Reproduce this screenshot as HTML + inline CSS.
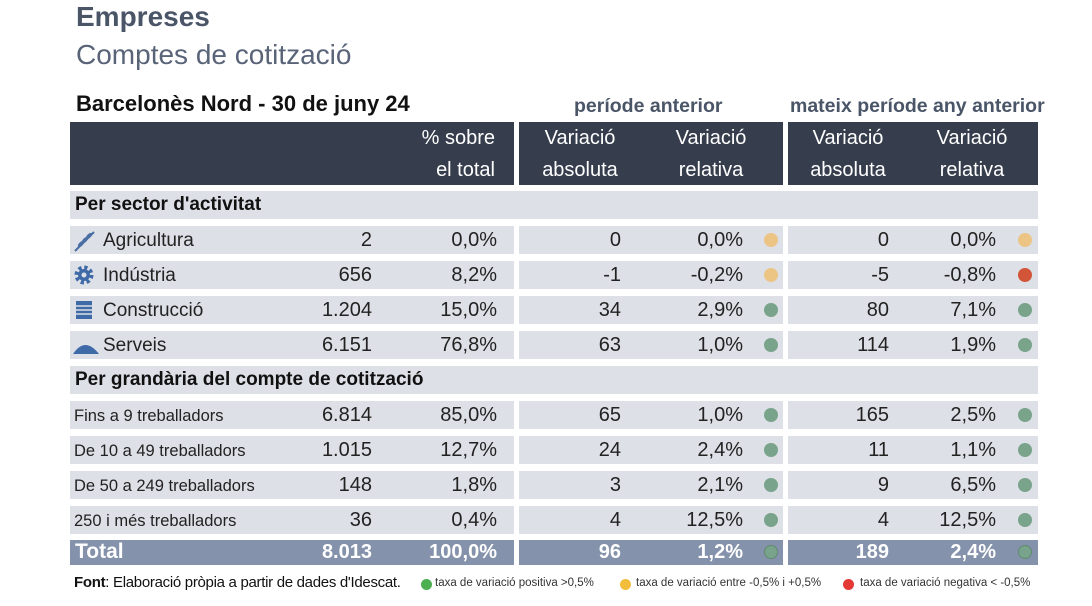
<!DOCTYPE html>
<html><head><meta charset="utf-8"><style>
*{margin:0;padding:0;box-sizing:border-box}
body{width:1092px;height:606px;background:#fff;font-family:"Liberation Sans",sans-serif;position:relative;overflow:hidden;color:#222}
.a{position:absolute;white-space:nowrap}
.bg{position:absolute;background:#dde0e6}
.hd{position:absolute;background:#363e4d}
.tt{position:absolute;background:#8592ab}
.n{position:absolute;font-size:20px;text-align:right;white-space:nowrap;line-height:28px}
.h{position:absolute;font-size:20px;color:#fff;text-align:center;white-space:nowrap;line-height:32px}
.d{position:absolute;width:14px;height:14px;border-radius:50%}
.g{background:#7aa38b}.y{background:#ecc585}.rd{background:#d2553a}
.lab{position:absolute;line-height:28px;white-space:nowrap}
</style></head><body>
<div class="a" style="left:76px;top:1px;font-size:28px;font-weight:bold;color:#4a5568">Empreses</div>
<div class="a" style="left:76px;top:39px;font-size:28px;color:#5a6478">Comptes de cotització</div>
<div class="a" style="left:76px;top:91px;font-size:22px;font-weight:bold;color:#111">Barcelonès Nord - 30 de juny 24</div>
<div class="a" style="left:574px;top:95px;font-size:19.5px;font-weight:bold;color:#4a5568">període anterior</div>
<div class="a" style="left:790px;top:95px;font-size:19.5px;font-weight:bold;color:#4a5568">mateix període any anterior</div>

<div class="hd" style="left:70px;top:122px;width:444px;height:63px"></div>
<div class="hd" style="left:519px;top:122px;width:264px;height:63px"></div>
<div class="hd" style="left:788px;top:122px;width:250px;height:63px"></div>
<div class="h" style="left:380px;width:115px;top:122px;text-align:right">% sobre</div>
<div class="h" style="left:380px;width:115px;top:154px;text-align:right">el total</div>
<div class="h" style="left:520px;width:120px;top:122px">Variació</div>
<div class="h" style="left:520px;width:120px;top:154px">absoluta</div>
<div class="h" style="left:651px;width:120px;top:122px">Variació</div>
<div class="h" style="left:651px;width:120px;top:154px">relativa</div>
<div class="h" style="left:788px;width:120px;top:122px">Variació</div>
<div class="h" style="left:788px;width:120px;top:154px">absoluta</div>
<div class="h" style="left:912px;width:120px;top:122px">Variació</div>
<div class="h" style="left:912px;width:120px;top:154px">relativa</div>

<div class="bg" style="left:70px;top:191px;width:968px;height:28px"></div>
<div class="lab" style="left:75px;top:191px;font-size:19px;font-weight:bold;color:#111">Per sector d'activitat</div>
<div class="bg" style="left:70px;top:366px;width:968px;height:28px"></div>
<div class="lab" style="left:75px;top:366px;font-size:19px;font-weight:bold;color:#111">Per grandària del compte de cotització</div>

<div class="bg" style="left:70px;top:226px;width:444px;height:28px"></div><div class="bg" style="left:519px;top:226px;width:264px;height:28px"></div><div class="bg" style="left:788px;top:226px;width:250px;height:28px"></div>
<div class="bg" style="left:70px;top:261px;width:444px;height:28px"></div><div class="bg" style="left:519px;top:261px;width:264px;height:28px"></div><div class="bg" style="left:788px;top:261px;width:250px;height:28px"></div>
<div class="bg" style="left:70px;top:296px;width:444px;height:28px"></div><div class="bg" style="left:519px;top:296px;width:264px;height:28px"></div><div class="bg" style="left:788px;top:296px;width:250px;height:28px"></div>
<div class="bg" style="left:70px;top:331px;width:444px;height:28px"></div><div class="bg" style="left:519px;top:331px;width:264px;height:28px"></div><div class="bg" style="left:788px;top:331px;width:250px;height:28px"></div>
<div class="bg" style="left:70px;top:401px;width:444px;height:28px"></div><div class="bg" style="left:519px;top:401px;width:264px;height:28px"></div><div class="bg" style="left:788px;top:401px;width:250px;height:28px"></div>
<div class="bg" style="left:70px;top:436px;width:444px;height:28px"></div><div class="bg" style="left:519px;top:436px;width:264px;height:28px"></div><div class="bg" style="left:788px;top:436px;width:250px;height:28px"></div>
<div class="bg" style="left:70px;top:471px;width:444px;height:28px"></div><div class="bg" style="left:519px;top:471px;width:264px;height:28px"></div><div class="bg" style="left:788px;top:471px;width:250px;height:28px"></div>
<div class="bg" style="left:70px;top:506px;width:444px;height:28px"></div><div class="bg" style="left:519px;top:506px;width:264px;height:28px"></div><div class="bg" style="left:788px;top:506px;width:250px;height:28px"></div>
<div class="tt" style="left:70px;top:540px;width:444px;height:25px"></div><div class="tt" style="left:519px;top:540px;width:264px;height:25px"></div><div class="tt" style="left:788px;top:540px;width:250px;height:25px"></div>

<svg class="a" style="left:72px;top:229px" width="26" height="24"><path d="M3 22 L22 3" stroke="#4a6fa5" stroke-width="2"/><g fill="#4a6fa5"><ellipse cx="9" cy="15" rx="2" ry="4" transform="rotate(45 9 15)"/><ellipse cx="13" cy="11" rx="2" ry="4" transform="rotate(45 13 11)"/><ellipse cx="17" cy="7" rx="2" ry="4" transform="rotate(45 17 7)"/></g></svg>
<svg class="a" style="left:74px;top:265px" width="20" height="20"><circle cx="10" cy="10" r="7" fill="none" stroke="#3f6aa8" stroke-width="5" stroke-dasharray="3 2.5"/><circle cx="10" cy="10" r="6" fill="#3f6aa8"/><circle cx="10" cy="10" r="2.5" fill="#dde0e6"/></svg>
<svg class="a" style="left:74px;top:300px" width="20" height="20"><rect x="2" y="1" width="16" height="18" fill="#3f6aa8"/><g stroke="#dde0e6" stroke-width="1.5"><line x1="2" y1="6" x2="18" y2="6"/><line x1="2" y1="10" x2="18" y2="10"/><line x1="2" y1="14" x2="18" y2="14"/></g></svg>
<svg class="a" style="left:72px;top:336px" width="28" height="20"><path d="M1 18 Q13 0 27 18 Z" fill="#3f6aa8"/></svg>

<div class="lab" style="left:103px;top:227px;font-size:19px">Agricultura</div>
<div class="lab" style="left:103px;top:262px;font-size:19px">Indústria</div>
<div class="lab" style="left:103px;top:297px;font-size:19px">Construcció</div>
<div class="lab" style="left:103px;top:332px;font-size:19px">Serveis</div>
<div class="lab" style="left:74px;top:402px;font-size:16.5px">Fins a 9 treballadors</div>
<div class="lab" style="left:74px;top:437px;font-size:16.5px">De 10 a 49 treballadors</div>
<div class="lab" style="left:74px;top:472px;font-size:16.5px">De 50 a 249 treballadors</div>
<div class="lab" style="left:74px;top:507px;font-size:16.5px">250 i més treballadors</div>

<div class="n" style="right:720px;top:226px">2</div><div class="n" style="right:595px;top:226px">0,0%</div><div class="n" style="right:471px;top:226px">0</div><div class="n" style="right:349px;top:226px">0,0%</div><div class="d y" style="left:764px;top:233px"></div><div class="n" style="right:203px;top:226px">0</div><div class="n" style="right:96px;top:226px">0,0%</div><div class="d y" style="left:1018px;top:233px"></div>
<div class="n" style="right:720px;top:261px">656</div><div class="n" style="right:595px;top:261px">8,2%</div><div class="n" style="right:471px;top:261px">-1</div><div class="n" style="right:349px;top:261px">-0,2%</div><div class="d y" style="left:764px;top:268px"></div><div class="n" style="right:203px;top:261px">-5</div><div class="n" style="right:96px;top:261px">-0,8%</div><div class="d rd" style="left:1018px;top:268px"></div>
<div class="n" style="right:720px;top:296px">1.204</div><div class="n" style="right:595px;top:296px">15,0%</div><div class="n" style="right:471px;top:296px">34</div><div class="n" style="right:349px;top:296px">2,9%</div><div class="d g" style="left:764px;top:303px"></div><div class="n" style="right:203px;top:296px">80</div><div class="n" style="right:96px;top:296px">7,1%</div><div class="d g" style="left:1018px;top:303px"></div>
<div class="n" style="right:720px;top:331px">6.151</div><div class="n" style="right:595px;top:331px">76,8%</div><div class="n" style="right:471px;top:331px">63</div><div class="n" style="right:349px;top:331px">1,0%</div><div class="d g" style="left:764px;top:338px"></div><div class="n" style="right:203px;top:331px">114</div><div class="n" style="right:96px;top:331px">1,9%</div><div class="d g" style="left:1018px;top:338px"></div>
<div class="n" style="right:720px;top:401px">6.814</div><div class="n" style="right:595px;top:401px">85,0%</div><div class="n" style="right:471px;top:401px">65</div><div class="n" style="right:349px;top:401px">1,0%</div><div class="d g" style="left:764px;top:408px"></div><div class="n" style="right:203px;top:401px">165</div><div class="n" style="right:96px;top:401px">2,5%</div><div class="d g" style="left:1018px;top:408px"></div>
<div class="n" style="right:720px;top:436px">1.015</div><div class="n" style="right:595px;top:436px">12,7%</div><div class="n" style="right:471px;top:436px">24</div><div class="n" style="right:349px;top:436px">2,4%</div><div class="d g" style="left:764px;top:443px"></div><div class="n" style="right:203px;top:436px">11</div><div class="n" style="right:96px;top:436px">1,1%</div><div class="d g" style="left:1018px;top:443px"></div>
<div class="n" style="right:720px;top:471px">148</div><div class="n" style="right:595px;top:471px">1,8%</div><div class="n" style="right:471px;top:471px">3</div><div class="n" style="right:349px;top:471px">2,1%</div><div class="d g" style="left:764px;top:478px"></div><div class="n" style="right:203px;top:471px">9</div><div class="n" style="right:96px;top:471px">6,5%</div><div class="d g" style="left:1018px;top:478px"></div>
<div class="n" style="right:720px;top:506px">36</div><div class="n" style="right:595px;top:506px">0,4%</div><div class="n" style="right:471px;top:506px">4</div><div class="n" style="right:349px;top:506px">12,5%</div><div class="d g" style="left:764px;top:513px"></div><div class="n" style="right:203px;top:506px">4</div><div class="n" style="right:96px;top:506px">12,5%</div><div class="d g" style="left:1018px;top:513px"></div>

<div class="lab" style="left:75px;top:539px;font-size:21px;font-weight:bold;color:#fff;line-height:26px">Total</div>
<div class="n" style="right:720px;top:539px;color:#fff;font-weight:bold;line-height:26px">8.013</div><div class="n" style="right:595px;top:539px;color:#fff;font-weight:bold;line-height:26px">100,0%</div>
<div class="n" style="right:471px;top:539px;color:#fff;font-weight:bold;line-height:26px">96</div><div class="n" style="right:349px;top:539px;color:#fff;font-weight:bold;line-height:26px">1,2%</div><div class="d g" style="left:764px;top:545px;border:1px solid #5f8a70"></div>
<div class="n" style="right:203px;top:539px;color:#fff;font-weight:bold;line-height:26px">189</div><div class="n" style="right:96px;top:539px;color:#fff;font-weight:bold;line-height:26px">2,4%</div><div class="d g" style="left:1018px;top:545px;border:1px solid #5f8a70"></div>

<div class="a" style="left:74px;top:574px;font-size:15px;color:#111;letter-spacing:-0.3px"><b>Font</b>: Elaboració pròpia a partir de dades d'Idescat.</div>
<div class="d" style="left:421px;top:579px;width:11px;height:11px;background:#4caf50"></div>
<div class="a" style="left:435px;top:577px;font-size:11.5px;color:#333">taxa de variació positiva &gt;0,5%</div>
<div class="d" style="left:620px;top:579px;width:11px;height:11px;background:#f2bd3a"></div>
<div class="a" style="left:636px;top:577px;font-size:11.5px;color:#333">taxa de variació entre -0,5% i +0,5%</div>
<div class="d" style="left:843px;top:579px;width:11px;height:11px;background:#e53935"></div>
<div class="a" style="left:860px;top:577px;font-size:11.5px;color:#333">taxa de variació negativa &lt; -0,5%</div>
</body></html>
